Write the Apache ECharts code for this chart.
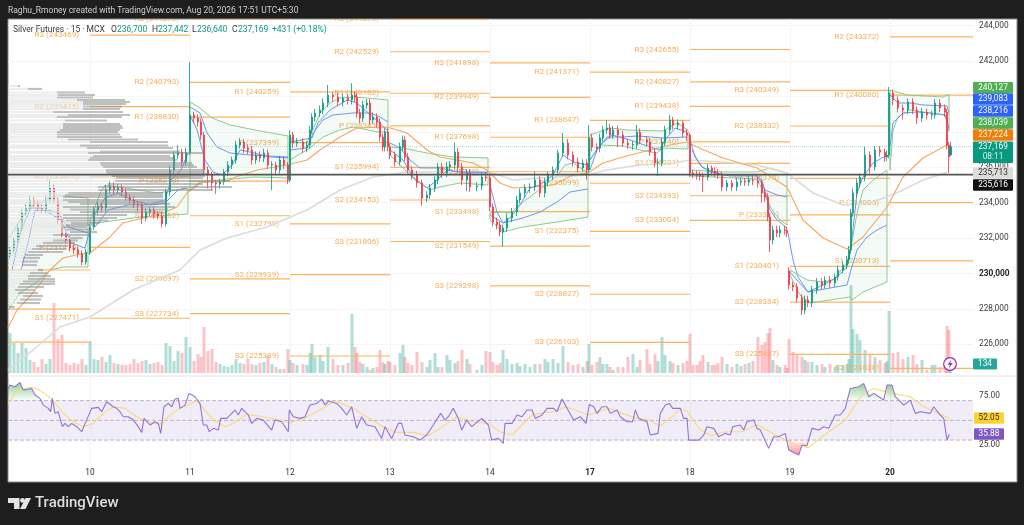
<!DOCTYPE html>
<html><head><meta charset="utf-8">
<style>html,body{margin:0;padding:0;background:#1e1e1e}#c{width:1024px;height:525px}</style>
<script src="https://cdn.jsdelivr.net/npm/echarts@6/dist/echarts.min.js"></script>
</head><body><div id="c"></div>
<script>
// x positions are trading-day positions: 0 = "10", 1 = "11" ... 8 = "20"
const dayLabels=['10','11','12','13','14','17','18','19','20'];
const priceTicks=[226000,228000,230000,232000,234000,236000,238000,240000,242000,244000];
// candles: [position, open, close, low, high]
const bars09=[[-.80,230990,231330,230800,231500],[-.76,231330,231890,231150,232050],[-.72,231890,232570,231700,232800],[-.68,232570,233470,232400,233650],[-.64,233470,233700,233250,233950],[-.60,233700,234150,233500,234400],[-.56,234150,233930,233700,234350],[-.52,233930,233700,233500,234100],[-.48,233700,233590,233400,233900],[-.44,233590,234150,233400,234400],[-.40,234150,234830,234000,235300],[-.36,234830,234150,233950,235000],[-.32,234150,233020,232800,234300],[-.28,233020,232170,231950,233200],[-.24,232170,231890,231700,232350],[-.20,231890,231440,231250,232100],[-.16,231440,231330,231100,231650],[-.12,231330,231100,230900,231500],[-.08,231100,230650,230450,231300],[-.04,230650,231210,230500,231400]];
const bars10=[[.00,231210,232630,231050,232800],[.04,232630,233590,232450,233800],[.08,233590,233810,233350,234050],[.12,233810,233700,233450,234000],[.16,233700,234720,233500,235000],[.20,234720,234940,234500,235250],[.24,234940,234720,234500,235150],[.28,234720,234830,234550,235050],[.32,234830,234600,234350,235000],[.36,234600,234320,234100,234800],[.40,234320,234150,233950,234500],[.44,234150,233930,233700,234350],[.48,233930,233870,233500,234100],[.52,233870,233130,232800,234050],[.56,233130,233470,232950,233700],[.60,233470,233590,233250,233800],[.64,233590,233360,233100,233800],[.68,233360,233250,233050,233500],[.72,233250,232800,232600,233450],[.76,232800,234600,232650,234800],[.80,234600,235850,234400,236050],[.84,235850,236690,235650,236900],[.88,236690,236860,236450,237250],[.92,236860,236300,236050,237050],[.96,236300,236860,236100,237100]];
const bars11=[[1.00,236800,238950,236700,241950],[1.04,238950,238780,238500,239150],[1.08,238780,238560,238300,239000],[1.11,238560,237820,237550,238750],[1.14,237820,235850,235600,238000],[1.18,235850,235560,234800,236050],[1.22,235560,235110,234700,235750],[1.26,235110,235060,234500,235300],[1.30,235060,235170,234800,235350],[1.34,235170,235730,235000,235900],[1.38,235730,236130,235500,236350],[1.42,236130,236410,235900,236600],[1.46,236410,237260,236200,237500],[1.50,237260,237430,237050,237650],[1.54,237430,237090,236800,237600],[1.58,237090,236980,236750,237300],[1.62,236980,236410,236150,237200],[1.66,236410,236690,236200,236900],[1.70,236690,236520,236300,236900],[1.74,236520,236810,236300,237050],[1.78,236810,236130,235900,237000],[1.82,236130,236160,234700,236350],[1.86,236130,235850,235600,236300],[1.90,235850,236410,235650,236650],[1.94,236410,236130,235900,236600],[1.98,236130,235280,235050,236300]];
const bars12=[[2.00,235280,237820,235150,238100],[2.03,237820,237370,237100,238000],[2.07,237370,237430,237150,237650],[2.13,237430,237090,236800,237650],[2.17,237090,237260,236850,237500],[2.20,237260,238110,237050,238350],[2.22,238110,238840,237900,239050],[2.25,238840,239070,238600,239300],[2.30,239070,239240,238850,239500],[2.33,239240,239630,239000,239900],[2.38,239630,240080,239400,240650],[2.43,240080,239970,239700,240250],[2.48,239970,239690,239450,240200],[2.53,239690,239910,239450,240150],[2.58,239910,239800,239550,240150],[2.62,239800,240080,239550,240750],[2.65,240080,239970,239700,240300],[2.67,239970,239070,238800,240200],[2.70,239070,238780,238500,239300],[2.73,238780,239520,238550,239750],[2.77,239520,239630,239300,239850],[2.80,239630,238670,238400,239850],[2.83,238670,238840,238450,239100],[2.87,238840,238560,238250,239050],[2.90,238560,237710,237450,238750],[2.93,237710,237150,236900,237900],[2.95,237150,237990,236900,238200],[2.98,237990,237150,236900,238200]];
const bars13=[[3.00,237150,236690,236450,237350],[3.05,236690,236300,236050,236900],[3.10,236300,237150,236100,237400],[3.13,237150,237540,236900,237800],[3.15,237540,236580,236350,237750],[3.18,236580,235850,235650,236800],[3.22,235850,235560,235300,236050],[3.27,235560,235110,234850,235800],[3.32,235110,234260,233850,235300],[3.37,234260,234440,234050,234650],[3.40,234440,234830,234200,235050],[3.45,234830,235280,234600,235500],[3.48,235280,236020,235050,236250],[3.52,236020,235680,235400,236250],[3.57,235680,236020,235450,236300],[3.60,236020,236130,235800,236350],[3.65,236130,236860,235900,237400],[3.68,236860,236020,235750,237100],[3.72,236020,235280,235000,236250],[3.77,235280,235680,234650,235900],[3.80,235680,234890,234600,235900],[3.87,234890,234950,234650,235150],[3.92,234950,235450,234700,235700],[3.96,235450,235400,235200,235750]];
const bars14=[[4.00,235400,233760,233500,235600],[4.03,233760,232910,232650,233950],[4.07,232910,232740,232500,233150],[4.10,232740,232340,232100,232950],[4.13,232340,232570,231500,232750],[4.17,232570,233130,232350,233400],[4.22,233130,233470,232900,233700],[4.27,233470,234150,233250,234400],[4.30,234150,234550,233950,234800],[4.35,234550,234830,234300,235050],[4.40,234830,234890,234550,235100],[4.45,234890,235280,234650,235750],[4.50,235280,234550,234300,235500],[4.55,234550,235170,234300,235400],[4.58,235170,235560,234950,235750],[4.63,235560,235850,235300,236050],[4.68,235850,236810,235650,237000],[4.73,236810,237370,236600,237940],[4.78,237370,236690,236450,237600],[4.83,236690,236300,236050,236900],[4.88,236300,235960,235700,236550],[4.93,235960,236240,235750,236450],[4.97,236240,235850,235300,236450]];
const bars17=[[4.99,235850,237660,235700,238390],[5.02,237660,237150,236900,237900],[5.07,237150,237090,236850,237350],[5.10,237090,237660,236850,237900],[5.13,237660,238110,237450,238350],[5.17,238110,238220,237900,238670],[5.20,238220,237820,237600,238450],[5.23,237820,238110,237600,238350],[5.28,238110,237820,237150,238350],[5.33,237820,237370,237150,238050],[5.38,237370,237260,237050,237600],[5.43,237260,237290,237000,237500],[5.47,237260,237990,237050,238400],[5.50,237990,237540,237300,238200],[5.57,237540,237430,237200,237750],[5.60,237430,236860,236650,237650],[5.65,236860,236240,236000,237050],[5.68,236240,236270,235500,236500],[5.72,236240,237430,236050,237650],[5.75,237430,238110,237200,238350],[5.80,238110,238670,237900,238950],[5.83,238670,238390,238150,238850],[5.88,238390,238500,238150,238700],[5.93,238500,237940,237700,238650],[5.97,237940,237820,237500,238150]];
const bars18=[[6.00,237820,235680,235450,237950],[6.03,235680,235620,235400,235850],[6.07,235620,235560,235300,235800],[6.10,235560,235510,235250,235750],[6.13,235510,235450,234600,235700],[6.18,235450,235960,235250,236200],[6.22,235960,235790,235550,236100],[6.25,235790,235680,235450,236000],[6.28,235680,235560,235350,235900],[6.32,235560,234890,234650,235750],[6.37,234890,235110,234650,235300],[6.42,235110,234890,234650,235300],[6.47,234890,235170,234650,235400],[6.51,235170,235230,234950,235450],[6.55,235230,235170,234950,235400],[6.59,235170,235280,234950,235500],[6.63,235280,235240,235000,235500],[6.68,235240,235110,234850,235450],[6.72,235110,234550,234000,235300],[6.75,234550,234320,234050,234800],[6.78,234320,233190,232950,234550],[6.80,233190,231890,231210,233400],[6.83,231890,232460,231650,232700],[6.87,232460,232290,232050,232700],[6.90,232290,232460,232050,232700],[6.95,232460,232430,232200,232700],[6.97,232430,232290,232050,232650]];
const bars19=[[6.99,230140,229350,229100,230350],[7.03,229350,229240,229000,229550],[7.07,229240,228620,228400,229450],[7.12,228620,227940,227650,228850],[7.15,227940,228500,227700,228750],[7.18,228500,228330,228100,228750],[7.22,228330,229070,228100,229300],[7.27,229070,229520,228850,229750],[7.32,229520,229350,229100,229750],[7.35,229350,229630,229150,229850],[7.40,229630,229460,229200,229850],[7.45,229460,229800,229250,230000],[7.48,229800,230200,229600,230450],[7.53,230200,230480,230000,230700],[7.57,230480,230760,230250,231000],[7.59,230760,231330,230550,231550],[7.61,231330,233420,231100,233650],[7.63,233420,234550,233200,234800],[7.67,234550,235110,234300,235350],[7.70,235110,235450,234850,235650],[7.75,235450,236690,235200,237150],[7.80,236690,236020,235650,236900],[7.85,236020,236980,235800,237200],[7.90,236980,236860,236600,237200],[7.95,236860,236580,236300,237050],[7.97,236580,236690,236350,236950]];
const bars20=[[7.99,236690,240200,236500,240540],[8.03,240200,239800,239500,240400],[8.08,239800,239350,239100,240000],[8.13,239350,239240,238700,239550],[8.18,239240,239690,239000,239900],[8.23,239690,239240,239000,239900],[8.27,239240,238780,238450,239450],[8.32,238780,239120,238550,239350],[8.37,239120,238950,238700,239300],[8.42,238950,238980,238700,239200],[8.45,238950,239630,238750,239850],[8.50,239630,239350,239100,239850],[8.55,239350,239120,238850,239550],[8.57,239120,237260,237000,239300],[8.59,237260,236580,235680,237442],[8.605,236700,237169,236640,237442]];
const candleSessions=[bars09,bars10,bars11,bars12,bars13,bars14,bars17,bars18,bars19,bars20];
// volume per candle, contracts
const vol09=[2000,1500,1000,1500,1250,650,550,300,700,450,700,3500,1700,1900,500,400,500,450,700,400];
const vol10=[1600,700,650,800,550,900,500,450,400,400,450,700,500,600,650,450,500,550,400,1500,1350,600,1100,1000,1800];
const vol11=[1300,600,950,800,2300,1100,1200,550,450,350,300,400,700,500,450,700,450,400,500,550,900,450,300,200,200,1200];
const vol12=[650,500,400,450,400,1000,1450,800,900,600,1300,700,400,400,500,2950,1300,1000,550,450,300,150,250,300,1150,550,450,600];
const vol13=[550,400,1000,1400,800,500,400,1050,550,300,650,1000,300,300,900,650,500,600,1150,700,450,150,400,1100];
const vol14=[1050,550,400,500,1150,700,450,500,350,450,300,450,450,700,550,700,500,1350,550,400,450,300,600];
const vol17=[1450,400,550,800,450,450,300,150,300,300,800,950,300,650,1200,450,950,600,1800,900,600,500,400,500,600];
const vol18=[1950,400,400,600,900,550,400,400,500,800,450,300,450,350,450,500,600,1800,1400,1550,2000,2250,650,400,300,400,250];
const vol19=[1700,1050,900,800,650,550,550,400,450,300,450,300,400,400,450,700,4400,2200,1950,1650,1150,950,800,650,500,600];
const vol20=[3100,1000,1050,700,800,900,450,650,150,400,400,300,450,2350,2150,134];
const volSessions=[vol09,vol10,vol11,vol12,vol13,vol14,vol17,vol18,vol19,vol20];
// blue bands, one polyline per session
const blueA=[
[[-.69,230197],[-.62,231723],[-.55,233587],[-.42,233587],[-.32,233418],[-.22,232627],[-.02,232288]],
[[.03,233191],[.15,234265],[.28,234548],[.41,234152],[.61,233870],[.75,233983],[.88,234717],[.96,234830]],
[[1.0,239407],[1.10,239067],[1.17,237937],[1.27,237147],[1.40,236807],[1.60,236695],[1.98,236582]],
[[2.0,237429],[2.22,237655],[2.28,238505],[2.40,239237],[2.57,239802],[2.67,239633],[2.83,238842],[2.97,238107]],
[[3.0,237373],[3.10,237090],[3.20,236412],[3.30,235960],[3.50,235960],[3.67,235734],[3.98,235734]],
[[4.0,234999],[4.07,233474],[4.13,232853],[4.20,233135],[4.30,233870],[4.40,234830],[4.50,234999],[4.63,235565],[4.73,236695],[4.83,236299],[4.98,236130]],
[[5.0,235847],[5.07,236977],[5.17,237712],[5.33,237712],[5.47,237768],[5.73,237655],[5.97,237712]],
[[6.0,237542],[6.05,236582],[6.13,235960],[6.33,235565],[6.67,235565],[6.75,234717],[6.87,234434],[6.97,234322]],
[[6.98,232288],[7.03,230762],[7.08,229802],[7.18,228954],[7.40,229180],[7.57,229350],[7.61,230197],[7.67,231327],[7.77,232062],[7.87,232457],[7.97,232740]],
[[8.0,240085],[8.08,239633],[8.20,239633],[8.33,239520],[8.57,239463],[8.59,239083]]];
const blueB=[
[[-.78,230197],[-.69,232457],[-.59,233700],[-.49,233700],[-.29,233022],[-.19,231723],[-.05,231440],[-.01,232288]],
[[.05,232627],[.18,233587],[.38,233870],[.58,233870],[.75,234152],[.81,235282],[.91,235847],[.98,236807]],
[[1.0,238955],[1.07,238107],[1.15,236412],[1.23,235734],[1.32,235565],[1.42,236130],[1.50,236977],[1.60,236864],[1.80,236582],[1.98,236525]],
[[2.0,236977],[2.17,237090],[2.23,237937],[2.33,238672],[2.43,238955],[2.63,239068],[2.80,239068],[2.90,238842],[2.98,238559]],
[[3.0,236977],[3.13,236412],[3.23,235451],[3.37,234830],[3.47,235282],[3.57,235847],[3.77,235678],[3.98,235678]],
[[4.0,233305],[4.13,232853],[4.33,233135],[4.50,233474],[4.67,234039],[4.80,234604],[4.98,234773]],
[[5.0,236412],[5.10,237260],[5.22,237825],[5.40,237542],[5.60,237147],[5.70,236977],[5.75,237542],[5.85,238220],[5.97,237994]],
[[6.02,236977],[6.10,236130],[6.20,235734],[6.40,235508],[6.67,235508],[6.72,235282],[6.80,233587],[6.87,233022],[6.97,232570]],
[[7.0,230084],[7.07,229632],[7.18,228954],[7.33,229350],[7.47,229802],[7.57,230367],[7.61,231497],[7.67,234548],[7.73,235452],[7.83,236243],[7.97,236694]],
[[8.0,237147],[8.03,238503],[8.13,239068],[8.27,239124],[8.40,239068],[8.55,238955],[8.59,238216]]];
// green envelopes, upper and lower edge per session
const envUpper=[
[[-.82,231892],[-.70,233022],[-.60,233757],[-.45,234152],[-.32,234434],[-.15,234322],[-.02,234265]],
[[0,233022],[.05,233757],[.10,234548],[.15,234999],[.35,234830],[.68,234548],[.98,234830]],
[[1.0,239689],[1.10,239350],[1.22,238785],[1.40,238390],[1.65,238107],[1.98,237768]],
[[2.0,237768],[2.03,237429],[2.17,237373],[2.30,239068],[2.40,239633],[2.50,239915],[2.65,239972],[2.98,239802]],
[[3.0,237147],[3.13,237090],[3.37,236807],[3.63,236582],[3.98,236525]],
[[4.0,233417],[4.13,233474],[4.20,233417],[4.33,234039],[4.53,234887],[4.68,235565],[4.75,236130],[4.83,236243],[4.98,235677]],
[[5.0,237825],[5.20,238220],[5.37,238107],[5.73,238051],[5.87,238503],[5.98,238107]],
[[6.0,235847],[6.33,235734],[6.67,235734],[6.80,235960],[6.97,235677]],
[[7.0,230197],[7.17,229632],[7.33,229519],[7.43,229632],[7.57,230592],[7.61,231497],[7.67,233417],[7.73,234717],[7.83,235282],[7.97,235847]],
[[8.0,240367],[8.17,240085],[8.53,239972],[8.59,240127]]];
const envLower=[
[[-.82,227937],[-.70,228898],[-.53,229519],[-.40,230197],[-.27,230366],[-.02,230366]],
[[0,232853],[.07,232853],[.50,233191],[.98,233361]],
[[1.0,234717],[1.10,235169],[1.31,235169],[1.43,235339],[1.63,235451],[1.98,235395]],
[[2.0,236412],[2.20,237090],[2.33,237711],[2.50,238107],[2.63,238276],[2.88,237994],[2.98,237994]],
[[3.0,236694],[3.10,236130],[3.25,235282],[3.40,234717],[3.50,234886],[3.70,235112],[3.98,234999]],
[[4.0,233022],[4.13,232344],[4.33,232627],[4.67,232909],[4.98,233191]],
[[5.0,236412],[5.10,237260],[5.33,237203],[5.50,236977],[5.67,236807],[5.73,237090],[5.98,237033]],
[[6.0,235508],[6.67,235339],[6.75,234434],[6.82,233587],[6.90,233022],[6.97,232740]],
[[7.0,229915],[7.10,228784],[7.20,228332],[7.60,228671],[7.62,228502],[7.73,228954],[7.97,229519]],
[[8.0,235847],[8.03,238107],[8.08,238842],[8.20,239237],[8.40,239068],[8.55,238955],[8.59,238039]]];
const emaOrange=[[-.82,226920],[-.73,227937],[-.57,228898],[-.40,230197],[-.27,230875],[-.10,231101],[0,231158],[.2,232062],[.33,232853],[.53,233135],[.73,233418],[.87,233757],[.97,234548],[1.10,235112],[1.43,235395],[1.67,235847],[1.97,236130],[2.17,236412],[2.30,236977],[2.50,237711],[2.67,238220],[2.97,238277],[3.17,237937],[3.37,236977],[3.50,236582],[3.83,236243],[3.97,235847],[4.10,235112],[4.23,234830],[4.43,234886],[4.63,234999],[4.83,235565],[4.98,235677],[5.13,236243],[5.33,236582],[5.60,236977],[5.80,237260],[5.97,237429],[6.07,237147],[6.33,236525],[6.67,235960],[6.97,234887],[7.13,233022],[7.33,232005],[7.57,231384],[7.73,232062],[7.97,233757],[8.13,235451],[8.33,236525],[8.57,237260],[8.59,237224]];
const emaGray=[[-.82,224547],[-.57,225677],[-.30,226977],[0,227542],[.43,229067],[.90,230197],[1.10,231327],[1.37,232005],[1.77,232627],[2.17,233587],[2.50,234717],[2.83,235451],[3.17,235734],[3.83,235734],[4.03,235678],[4.23,235282],[4.50,235395],[4.98,235565],[5.17,235847],[5.50,236130],[5.83,236243],[6.0,236412],[6.33,236299],[6.67,236130],[6.97,235678],[7.23,234548],[7.53,233870],[7.80,233983],[8.07,234548],[8.33,235282],[8.57,235713]];
// pivots: [from, to, name, value]
const pivotsPre=[[-.82,0,'',230198],[-.82,0,'',227989],[-.82,0,'',226124]];
const pivots10=[[0,1,'R3',243469],[0,1,'R2',239425],[0,1,'R1',235470],[0,1,'P',231470],[0,1,'S1',227471]];
const pivots11=[[1,2,'R3',244378],[1,2,'R2',240793],[1,2,'R1',238830],[1,2,'P',235218],[1,2,'S1',233262],[1,2,'S2',229697],[1,2,'S3',227734]];
const pivots12=[[2,3,'R1',240259],[2,3,'P',237399],[2,3,'S1',232799],[2,3,'S2',229939],[2,3,'S3',225339]];
const pivots13=[[3,4,'R3',244376],[3,4,'R2',242529],[3,4,'R1',240182],[3,4,'P',238341],[3,4,'S1',235994],[3,4,'S2',234153],[3,4,'S3',231806]];
const pivots14=[[4,5,'R3',241898],[4,5,'R2',239949],[4,5,'R1',237698],[4,5,'P',235749],[4,5,'S1',233498],[4,5,'S2',231549],[4,5,'S3',229298]];
const pivots17=[[5,6,'R2',241371],[5,6,'R1',238647],[5,6,'P',235099],[5,6,'S1',232375],[5,6,'S2',228827],[5,6,'S3',226103]];
const pivots18=[[6,7,'R3',242655],[6,7,'R2',240827],[6,7,'R1',239438],[6,7,'P',237440],[6,7,'S1',236221],[6,7,'S2',234393],[6,7,'S3',233004]];
const pivots19=[[7,8,'R3',240349],[7,8,'R2',238332],[7,8,'R1',235375],[7,8,'P',233311],[7,8,'S1',230401],[7,8,'S2',228384],[7,8,'S3',225427]];
const pivots20=[[8,8.83,'R2',243372],[8,8.83,'R1',240080],[8,8.83,'P',234005],[8,8.83,'S1',230713],[8,8.83,'S2',224638]];
// volume profile rows: [price, buy volume, total volume]
const profile=[[240593,10,12],[240424,20,34],[240226,49,77],[240085,50,87],[239943,49,85],[239802,69,117],[239689,75,122],[239576,75,118],[239435,75,114],[239293,75,112],[239124,45,115],[238955,60,122],[238842,49,114],[238644,57,99],[238446,55,112],[238333,55,114],[238220,55,115],[238107,52,112],[237994,49,110],[237853,49,112],[237712,49,114],[237570,60,130],[237429,82,160],[237231,72,160],[237090,79,165],[236892,92,172],[236807,80,195],[236638,85,162],[236525,82,165],[236412,80,169],[236243,92,184],[236130,93,186],[236017,95,189],[235847,98,195],[235734,98,197],[235621,99,199],[235508,104,197],[235395,108,195],[235226,107,222],[235056,100,195],[234887,90,224],[234717,90,205],[234548,60,155],[234434,57,155],[234322,55,155],[234152,55,155],[234039,60,158],[233926,72,162],[233757,55,167],[233615,62,160],[233474,72,155],[233304,55,119],[233135,55,109],[232994,58,100],[232853,63,92],[232740,58,85],[232627,55,79],[232485,58,84],[232344,62,89],[232175,45,80],[232005,62,75],[231864,45,70],[231723,35,67],[231553,28,60],[231384,24,58],[231214,20,55],[231045,17,35],[230875,15,32],[230677,14,30],[230480,14,29],[230197,30,35],[230027,22,39],[229858,20,43],[229688,20,47],[229547,15,47],[229406,12,47],[229237,10,36],[229067,7,27],[228898,10,30],[228728,15,35],[228530,12,33],[228332,9,32],[228107,1,7]];
const rsiLine=[[-.82,82.4],[-.80,85.8],[-.75,84.1],[-.70,88.5],[-.667,80.7],[-.583,82.4],[-.55,75.7],[-.50,72.3],[-.467,65.5],[-.417,62.2],[-.393,58.8],[-.377,72.3],[-.35,57.1],[-.317,58.8],[-.277,43.6],[-.25,46.9],[-.217,43.6],[-.183,46.9],[-.133,43.6],[-.083,38.5],[-.027,52],[.017,62.2],[.083,63.2],[.117,58.8],[.167,68.9],[.233,63.8],[.267,62.2],[.30,58.8],[.333,53.7],[.383,53.7],[.433,50.3],[.483,43.6],[.517,37.8],[.54,52],[.60,45.3],[.65,48.6],[.683,46.9],[.707,36.8],[.74,63.8],[.783,67.2],[.817,63.8],[.85,71.6],[.883,72.3],[.90,62.2],[.95,65.5],[.99,77.4],[1.05,74],[1.10,67.2],[1.133,45.3],[1.167,45.3],[1.193,38.5],[1.233,41.9],[1.283,40.2],[1.307,52],[1.367,52],[1.45,60.5],[1.483,55.4],[1.517,62.2],[1.583,55.4],[1.617,46.9],[1.667,52],[1.733,50.3],[1.817,40.2],[1.85,50.3],[1.917,48.6],[1.983,38.5],[1.993,60.5],[2.033,53.7],[2.10,52],[2.15,53.7],[2.20,65.5],[2.267,67.2],[2.317,71.6],[2.35,65.5],[2.383,69.6],[2.467,67.2],[2.517,62.2],[2.567,55.4],[2.617,63.8],[2.667,41.9],[2.717,53.7],[2.767,45.3],[2.85,43.6],[2.917,31.7],[2.95,43.6],[3.017,31.7],[3.083,46.9],[3.117,46.9],[3.15,35.1],[3.233,33.4],[3.30,30],[3.367,35.1],[3.433,45.3],[3.507,57.1],[3.55,50.3],[3.583,53.7],[3.633,62.2],[3.683,52],[3.717,40.2],[3.767,50.3],[3.817,43.6],[3.917,52],[3.983,45.3],[4.017,30],[4.083,31.7],[4.133,26.7],[4.15,46.9],[4.22,46.9],[4.27,55.4],[4.32,53.7],[4.37,60.5],[4.42,60.5],[4.453,52],[4.52,55.4],[4.57,62.2],[4.637,62.2],[4.67,58.8],[4.72,71.6],[4.77,62.2],[4.837,50.3],[4.903,53.7],[4.96,46.9],[4.993,66.2],[5.037,63.8],[5.07,57.1],[5.12,63.8],[5.17,63.8],[5.203,57.1],[5.27,60.5],[5.303,53.7],[5.37,48.6],[5.427,48.6],[5.453,60.5],[5.487,52],[5.57,48.6],[5.603,35.1],[5.68,36.8],[5.703,57.1],[5.753,65.5],[5.793,67.2],[5.827,62.2],[5.903,62.2],[5.937,52],[5.97,52],[5.987,30],[6.087,30],[6.137,35.1],[6.17,43.6],[6.237,41.9],[6.287,33.4],[6.353,36.8],[6.403,35.1],[6.427,43.6],[6.503,45.3],[6.537,40.2],[6.57,48.6],[6.637,50.3],[6.67,41.9],[6.703,40.2],[6.787,21.6],[6.837,33.4],[6.887,33.4],[6.953,36.8],[6.987,19.9],[7.087,14.8],[7.12,25],[7.17,24.3],[7.22,41.9],[7.287,40.2],[7.337,43.6],[7.387,41.9],[7.453,55.4],[7.503,55.4],[7.553,62.2],[7.603,82.4],[7.687,84.1],[7.737,87.5],[7.787,74],[7.837,77.4],[7.887,74],[7.937,70.6],[7.97,85.8],[8.02,85.8],[8.053,74],[8.137,65.5],[8.203,70.6],[8.253,57.1],[8.303,58.8],[8.403,57.1],[8.437,63.8],[8.503,55.4],[8.537,52],[8.57,30],[8.593,35.88]];
const rsiAvg=[[-.82,67.2],[-.75,77.4],[-.667,82.4],[-.583,83.5],[-.50,80.7],[-.383,71.6],[-.267,57.1],[-.167,48.6],[-.067,43.6],[.033,46.9],[.133,57.1],[.233,63.8],[.35,62.2],[.467,53.7],[.567,48.6],[.70,45.9],[.80,55.4],[.90,62.2],[1.067,69.6],[1.133,62.2],[1.233,50.3],[1.35,43.6],[1.433,46.9],[1.567,56.1],[1.733,53.7],[1.90,50.3],[2.0,47.6],[2.133,52],[2.30,60.5],[2.45,69.6],[2.633,62.2],[2.767,53.7],[2.933,43.6],[3.067,37.8],[3.233,37.8],[3.383,34.4],[3.50,41.9],[3.667,53.7],[3.833,48.6],[3.983,46.9],[4.10,38.5],[4.22,35.1],[4.32,45.3],[4.42,55.4],[4.553,58.1],[4.653,58.8],[4.753,63.8],[4.853,60.5],[4.987,55.4],[5.187,62.2],[5.32,57.1],[5.453,52.7],[5.587,50.3],[5.703,44.6],[5.82,53.7],[5.903,61.5],[5.97,59.5],[6.087,41.9],[6.203,34.4],[6.353,38.5],[6.52,38.5],[6.67,45.9],[6.853,35.1],[7.02,26.7],[7.187,22.3],[7.32,33.4],[7.553,50.3],[7.72,75.7],[7.837,82.4],[8.02,77.4],[8.203,74],[8.337,63.8],[8.487,57.1],[8.593,52.05]];
const rsiOver=[[[-.82,70],[-.82,82.4],[-.80,85.8],[-.75,84.1],[-.70,88.5],[-.667,80.7],[-.583,82.4],[-.55,75.7],[-.507,70]],[[7.58,70],[7.603,82.4],[7.687,84.1],[7.737,87.5],[7.787,74],[7.837,77.4],[7.887,74],[7.93,70]],[[7.96,70],[7.97,85.8],[8.02,85.8],[8.053,74],[8.087,70]]];
const rsiUnder=[[[6.973,30],[6.987,19.9],[7.087,14.8],[7.12,25],[7.17,24.3],[7.187,30]]];
const rsiBand=[[-.82,70],[8.83,70],[8.83,30],[-.82,30]];
const rsiLevels=[70,50,30];
const lastClose=237169, sessionLine=235590;

const XMIN=-.82,XMAX=8.83,FONT='Roboto, sans-serif';
const UP='#089981',DOWN='#f23645';
const allBars=[].concat(...candleSessions);
const volData=[];
candleSessions.forEach((s,i)=>s.forEach((b,j)=>volData.push({value:[b[0],volSessions[i][j]],itemStyle:{color:b[2]>=b[1]?'rgba(8,153,129,.32)':'rgba(242,54,69,.3)'}})));
const allPivots=[].concat(pivotsPre,pivots10,pivots11,pivots12,pivots13,pivots14,pivots17,pivots18,pivots19,pivots20);

function polySeries(polys,style,z,xi,yi){
  return {type:'custom',xAxisIndex:xi,yAxisIndex:yi,z,clip:true,silent:true,
    data:polys.map(p=>p[0]),
    renderItem(params,api){
      const pts=polys[params.dataIndex].map(q=>api.coord(q));
      return {type:'polygon',shape:{points:pts},style:typeof style==='function'?style():style};
    }};
}
const lineS=(data,color,width,z,xi,yi,extra)=>Object.assign({type:'line',data,xAxisIndex:xi,yAxisIndex:yi,z,showSymbol:false,symbol:'none',silent:true,lineStyle:{color,width},animation:false},extra||{});

const envPolys=envUpper.map((u,i)=>u.concat(envLower[i].slice().reverse()));
const series=[
 {type:'bar',name:'volume',data:volData,xAxisIndex:0,yAxisIndex:1,barWidth:3,z:1,silent:true},
 {type:'custom',name:'pivots',xAxisIndex:0,yAxisIndex:0,z:2,clip:true,silent:true,data:allPivots.map(p=>[p[0],p[3]]),
  renderItem(params,api){
    const p=allPivots[params.dataIndex],a=api.coord([p[0],p[3]]),b=api.coord([p[1],p[3]]);
    const ch=[{type:'line',shape:{x1:a[0],y1:a[1],x2:b[0],y2:a[1]},style:{stroke:'#ffb35c',lineWidth:1.2}}];
    if(p[2])ch.push({type:'text',style:{text:p[2]+' ('+p[3]+')',x:a[0]-11,y:a[1],align:'right',verticalAlign:'middle',fill:'#f9ad57',font:'8.1px '+FONT}});
    return {type:'group',children:ch};
  }},
 polySeries(envPolys,{fill:'rgba(76,175,80,.06)',stroke:'#8ccb90',lineWidth:1},3,0,0),
 lineS(emaGray,'#dcdcdc',1.6,4,0,0),
 lineS(emaOrange,'#f7a65f',1.1,4,0,0),
 ...blueA.map(s=>lineS(s,'#6f97ef',1,6,0,0)),
 ...blueB.map(s=>lineS(s,'#6f97ef',1,6,0,0)),
 lineS([[XMIN,lastClose],[XMAX,lastClose]],UP,.8,6,0,0,{lineStyle:{color:'#a8dcd2',width:1,type:'dotted'}}),
 {type:'candlestick',name:'price',data:allBars,xAxisIndex:0,yAxisIndex:0,z:7,barWidth:2.3,silent:true,
  itemStyle:{color:UP,color0:DOWN,borderColor:UP,borderColor0:DOWN,borderWidth:.8}},
 {type:'custom',name:'profile',xAxisIndex:2,yAxisIndex:0,z:8,clip:true,silent:true,data:profile.map(r=>[r[2],r[0]]),
  renderItem(params,api){
    const r=profile[params.dataIndex],o=api.coord([0,r[0]]),m=api.coord([r[1],r[0]]),e=api.coord([r[2],r[0]]);
    return {type:'group',children:[
      {type:'rect',shape:{x:o[0],y:o[1]-1.1,width:m[0]-o[0],height:2.2},style:{fill:'rgba(230,230,230,.72)'}},
      {type:'rect',shape:{x:m[0],y:o[1]-1.1,width:e[0]-m[0],height:2.2},style:{fill:'rgba(140,140,140,.55)'}}]};
  }},
 lineS([[XMIN,sessionLine],[XMAX,sessionLine]],'#555',1.8,9,0,0),
 polySeries([rsiBand],{fill:'rgba(126,87,194,.11)'},2,1,2),
 ...rsiLevels.map(l=>lineS([[XMIN,l],[XMAX,l]],'#b9b4c4',1,3,1,2,{lineStyle:{color:'#b9b4c4',width:1,type:'dashed'}})),
 polySeries(rsiOver,()=>({fill:new echarts.graphic.LinearGradient(0,0,0,1,[{offset:0,color:'rgba(76,175,80,.6)'},{offset:1,color:'rgba(76,175,80,.02)'}])}),4,1,2),
 polySeries(rsiUnder,()=>({fill:new echarts.graphic.LinearGradient(0,0,0,1,[{offset:0,color:'rgba(242,54,69,.03)'},{offset:1,color:'rgba(242,54,69,.55)'}])}),4,1,2),
 lineS(rsiAvg,'#fbd874',1.1,5,1,2),
 lineS(rsiLine,'#9075d4',1.1,6,1,2)
];

const grid={color:'#ececec',width:1,type:'dotted'};
const AF='8.3px';
const tag=(y,h,text,fill,color,x0,x1,extra)=>[
 {type:'rect',z:50,shape:{x:x0||973,y:y-h/2,width:(x1||1013)-(x0||973),height:h,r:1},style:{fill}},
 {type:'text',z:51,style:{text,x:((x0||973)+(x1||1013))/2,y,align:'center',verticalAlign:'middle',fill:color,font:(extra||AF)+' '+FONT}}];
const txt=(x,y,text,fill,font)=>({type:'text',z:52,style:{text,x,y,verticalAlign:'middle',fill,font:font||('8.5px '+FONT)}});
const legendTeal='#089981',ink='#3a3a3a';
const graphics=[
 {type:'rect',z:-10,shape:{x:8,y:19,width:1009,height:463},style:{fill:'#fff',stroke:'#8c8c8c',lineWidth:1}},
 {type:'line',z:-9,shape:{x1:8,y1:376,x2:1016,y2:376},style:{stroke:'#e4e4e4',lineWidth:1}},
 txt(8,10.5,'Raghu_Rmoney created with TradingView.com, Aug 20, 2026 17:51 UTC+5:30','#cfcfcf','8.5px '+FONT),
 txt(13,30,'Silver Futures · 15 · MCX',ink),
 txt(111,30,'O',ink),txt(117,30,'236,700',legendTeal),
 txt(152,30,'H',ink),txt(158,30,'237,442',legendTeal),
 txt(192,30,'L',ink),txt(197,30,'236,640',legendTeal),
 txt(232,30,'C',ink),txt(238,30,'237,169',legendTeal),
 txt(272,30,'+431 (+0.18%)',legendTeal),
 ...tag(87.5,11,'240,127','#4caf50','#fff'),
 ...tag(99,11.5,'239,083','#2962ff','#fff'),
 ...tag(111,11.5,'238,216','#2962ff','#fff'),
 ...tag(123,11.5,'238,039','#4caf50','#fff'),
 ...tag(135,11.5,'237,224','#f57c00','#fff'),
 {type:'rect',z:50,shape:{x:973,y:141.5,width:40,height:21.5,r:1},style:{fill:'#089981'}},
 {type:'text',z:51,style:{text:'237,169',x:993,y:147,align:'center',verticalAlign:'middle',fill:'#fff',font:AF+' '+FONT}},
 {type:'text',z:51,style:{text:'08:11',x:993,y:157,align:'center',verticalAlign:'middle',fill:'#d8f0eb',font:AF+' '+FONT}},
 ...tag(173,11.5,'235,713','#dcdcdc','#333'),
 ...tag(185,11.5,'235,616','#111','#fff'),
 ...tag(364,11,'134','#26a69a','#fff',973,997),
 ...tag(418,11.5,'52.05','#ffd22e','#333',974,1004),
 ...tag(434,11.5,'35.88','#7e57c2','#fff',974,1004),
 {type:'circle',z:52,shape:{cx:950,cy:364,r:6.3},style:{fill:'#fff',stroke:'#9c27b0',lineWidth:1.2}},
 {type:'polygon',z:53,shape:{points:[[951.5,359.5],[947.5,364.8],[950,364.8],[948.7,368.5],[952.8,363],[950.2,363]]},style:{fill:'#9c27b0'}},
 {type:'polygon',z:52,shape:{points:[[8,498],[19.5,498],[19.5,509],[14,509],[14,503],[8,503]]},style:{fill:'#e4e4e4'}},
 {type:'circle',z:52,shape:{cx:22.5,cy:500.4,r:2.4},style:{fill:'#e4e4e4'}},
 {type:'polygon',z:52,shape:{points:[[25.6,498],[31,498],[25.5,509],[20,509]]},style:{fill:'#e4e4e4'}},
 txt(35,503.5,'TradingView','#dedede','500 15px '+FONT)
];

const chart=echarts.init(document.getElementById('c'),null,{renderer:'canvas'});
const xTicks=dayLabels.map((_,i)=>i);
const baseX={type:'value',min:XMIN,max:XMAX,axisLine:{show:false},
  axisTick:{show:false,customValues:xTicks},splitLine:{show:true,lineStyle:grid}};
chart.setOption({
 animation:false,backgroundColor:'#1e1e1e',
 grid:[{left:8,right:51,top:19,height:354},{left:8,right:51,top:377,height:89}],
 xAxis:[
  Object.assign({},baseX,{gridIndex:0,axisLabel:{show:false}}),
  Object.assign({},baseX,{gridIndex:1,axisLabel:{show:true,customValues:xTicks,margin:3,fontSize:8.3,fontFamily:FONT,color:'#333',
     formatter:v=>{const n=dayLabels[Math.round(v)];return (n==='17'||n==='20')?'{b|'+n+'}':n;},
     rich:{b:{fontSize:8.3,fontWeight:'bold',fontFamily:FONT,color:'#222'}}}}),
  {type:'value',gridIndex:0,min:0,max:965,show:false}
 ],
 yAxis:[
  {type:'value',gridIndex:0,position:'right',min:224378,max:244378,axisLine:{show:false},
   axisTick:{show:false,customValues:priceTicks},splitLine:{show:true,lineStyle:grid},
   axisLabel:{customValues:priceTicks,margin:6,fontSize:8.3,fontFamily:FONT,color:'#3a3a3a',
     formatter:v=>{const s=Math.round(v).toLocaleString('en-US');return v===230000?'{b|'+s+'}':s;},
     rich:{b:{fontSize:8.3,fontWeight:'bold',fontFamily:FONT,color:'#222'}}}},
  {type:'value',gridIndex:0,min:0,max:17700,show:false},
  {type:'value',gridIndex:1,position:'right',min:3.7,max:94,axisLine:{show:false},
   axisTick:{show:false,customValues:[25,75]},splitLine:{show:false},
   axisLabel:{customValues:[25,75],margin:6,fontSize:8.3,fontFamily:FONT,color:'#3a3a3a',formatter:v=>v.toFixed(2)}}
 ],
 graphic:{elements:graphics},
 series
});
</script></body></html>
